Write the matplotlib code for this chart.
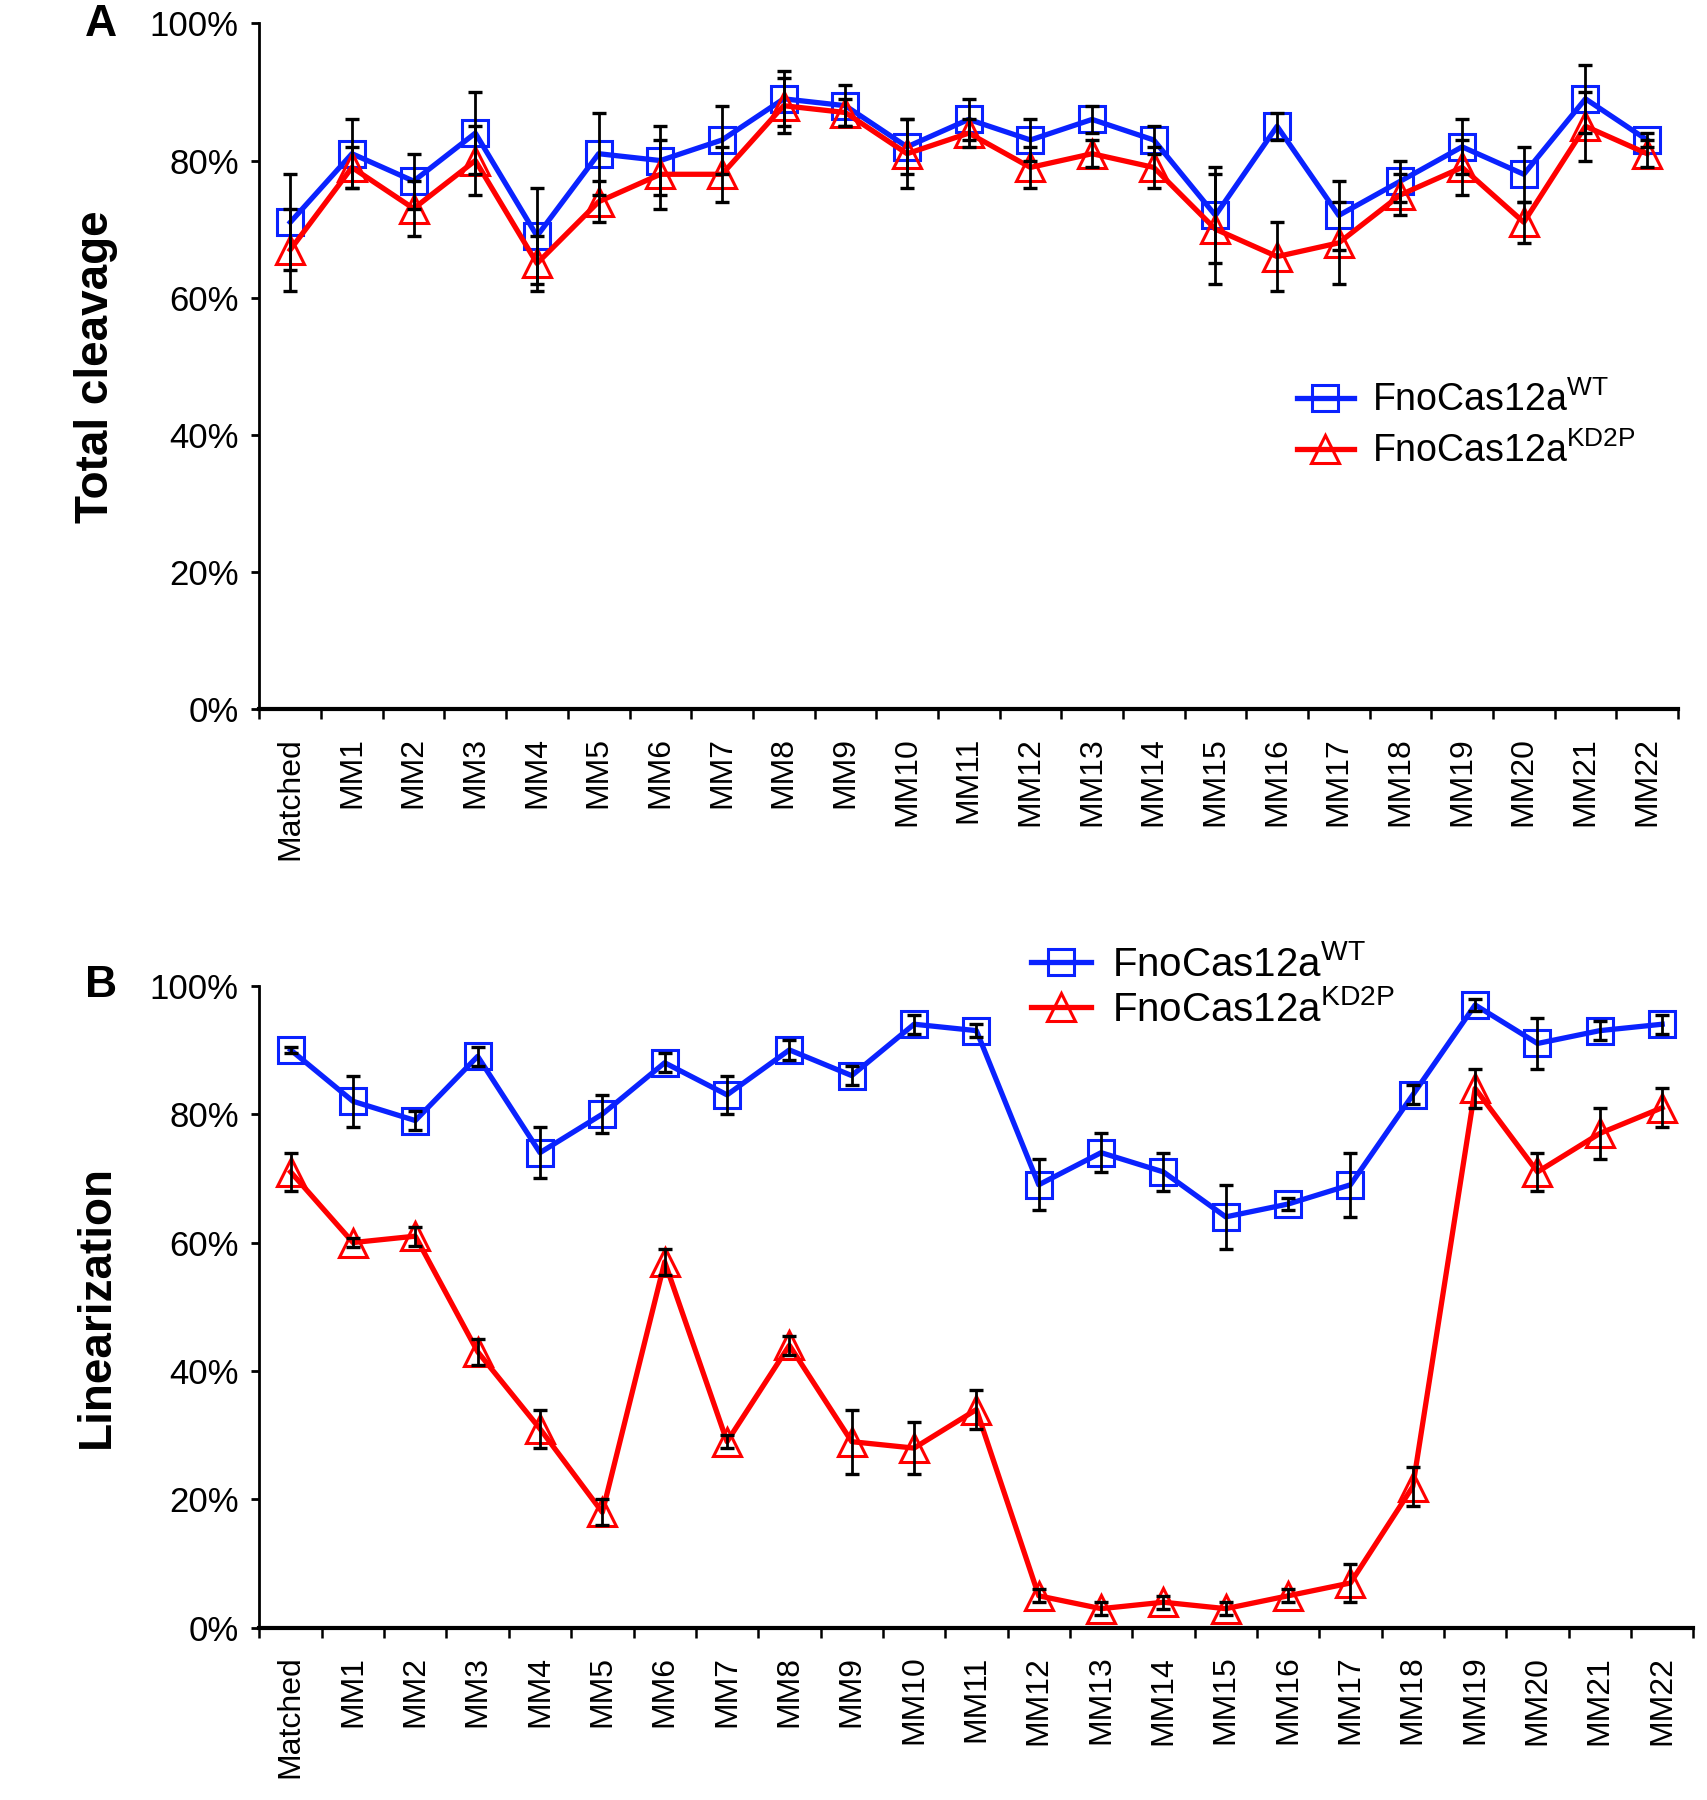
import matplotlib
matplotlib.use('Agg')
import matplotlib.pyplot as plt
from matplotlib import rcParams
from matplotlib.ticker import FixedLocator, FuncFormatter

rcParams['font.family'] = ['Liberation Sans', 'DejaVu Sans']
rcParams['mathtext.default'] = 'regular'

categories = ['Matched', 'MM1', 'MM2', 'MM3', 'MM4', 'MM5', 'MM6', 'MM7', 'MM8', 'MM9',
              'MM10', 'MM11', 'MM12', 'MM13', 'MM14', 'MM15', 'MM16', 'MM17', 'MM18',
              'MM19', 'MM20', 'MM21', 'MM22']

# panel A - total cleavage (%)
wt_total = [71, 81, 77, 84, 69, 81, 80, 83, 89, 88, 82, 86, 83, 86, 83, 72, 85, 72, 77, 82, 78, 89, 83]
wt_total_err = [7, 5, 4, 6, 7, 6, 5, 5, 4, 3, 4, 3, 3, 2, 2, 7, 2, 5, 3, 4, 4, 5, 1]
kd_total = [67, 79, 73, 80, 65, 74, 78, 78, 88, 87, 81, 84, 79, 81, 79, 70, 66, 68, 75, 79, 71, 85, 81]
kd_total_err = [6, 3, 4, 5, 4, 3, 5, 4, 4, 2, 5, 2, 3, 2, 3, 8, 5, 6, 3, 4, 3, 5, 2]

# panel B - linearization (%)
wt_lin = [90, 82, 79, 89, 74, 80, 88, 83, 90, 86, 94, 93, 69, 74, 71, 64, 66, 69, 83, 97, 91, 93, 94]
wt_lin_err = [0.5, 4, 1.5, 1.5, 4, 3, 1.5, 3, 1.5, 1.5, 1.5, 1, 4, 3, 3, 5, 1, 5, 1.5, 1, 4, 1.5, 1.5]
kd_lin = [71, 60, 61, 43, 31, 18, 57, 29, 44, 29, 28, 34, 5, 3, 4, 3, 5, 7, 22, 84, 71, 77, 81]
kd_lin_err = [3, 0.7, 1.5, 2, 3, 2, 2, 1, 1.5, 5, 4, 3, 1, 1, 1, 1, 1, 3, 3, 3, 3, 4, 3]

yticks = [0, 20, 40, 60, 80, 100]

BLUE = '#0a22ff'
RED = '#ff0000'
WT_LABEL = 'FnoCas12a$^{WT}$'
KD_LABEL = 'FnoCas12a$^{KD2P}$'


def draw_panel(ax, wt, wt_err, kd, kd_err, ylabel, label_x, legend_anchor, spacing, legend_size):
    x = list(range(len(categories)))
    ax.plot(x, wt, 's-', color=BLUE, linewidth=3.8, markersize=19,
            markerfacecolor='none', markeredgecolor=BLUE, markeredgewidth=2.2, label=WT_LABEL, zorder=3)
    ax.plot(x, kd, '^-', color=RED, linewidth=3.8, markersize=20,
            markerfacecolor='none', markeredgecolor=RED, markeredgewidth=2.2, label=KD_LABEL, zorder=3)
    ax.errorbar(x, wt, yerr=wt_err, fmt='none', ecolor='black', elinewidth=2,
                capsize=5, capthick=2.4, zorder=4)
    ax.errorbar(x, kd, yerr=kd_err, fmt='none', ecolor='black', elinewidth=2,
                capsize=5, capthick=2.4, zorder=4)

    ax.set_xlim(-0.5, len(categories) - 0.5)
    ax.set_ylim(0, 100)
    ax.set_yticks(yticks)
    ax.yaxis.set_major_formatter(FuncFormatter(lambda v, p: '%d%%' % v))
    ax.set_xticks(x)
    ax.set_xticklabels(categories, rotation=90, fontsize=23)
    ax.xaxis.set_minor_locator(FixedLocator([i - 0.5 for i in range(len(categories) + 1)]))
    ax.tick_params(axis='x', which='major', length=0, pad=20)
    ax.tick_params(axis='x', which='minor', length=7, width=1.8, direction='out')
    ax.tick_params(axis='y', which='major', length=6, width=2, direction='out',
                   labelsize=25, pad=9)

    for s in ['top', 'right']:
        ax.spines[s].set_visible(False)
    ax.spines['left'].set_linewidth(2)
    ax.spines['bottom'].set_linewidth(3)

    ax.set_ylabel(ylabel, fontsize=33, fontweight='bold')
    ax.yaxis.set_label_coords(label_x, 0.5)

    ax.legend(loc='upper left', bbox_to_anchor=legend_anchor, bbox_transform=ax.figure.transFigure,
              frameon=False, fontsize=legend_size, handlelength=1.5, handletextpad=0.5,
              labelspacing=spacing, borderpad=0, borderaxespad=0, numpoints=1)


fig = plt.figure(figsize=(17.07, 18.0), dpi=100)
axA = fig.add_axes([0.152, 0.606, 0.831, 0.381])
axB = fig.add_axes([0.152, 0.0956, 0.840, 0.3568])

draw_panel(axA, wt_total, wt_total_err, kd_total, kd_total_err, 'Total cleavage', -0.100,
           (0.760, 0.788), 0.35, 27)
draw_panel(axB, wt_lin, wt_lin_err, kd_lin, kd_lin_err, 'Linearization', -0.098,
           (0.604, 0.475), 0.15, 29)

fig.text(101 / 1707, 1 - 25 / 1800, 'A', fontsize=32, fontweight='bold', ha='center', va='center')
fig.text(101 / 1707, 1 - 985 / 1800, 'B', fontsize=32, fontweight='bold', ha='center', va='center')

fig.savefig('out.png', dpi=100)
